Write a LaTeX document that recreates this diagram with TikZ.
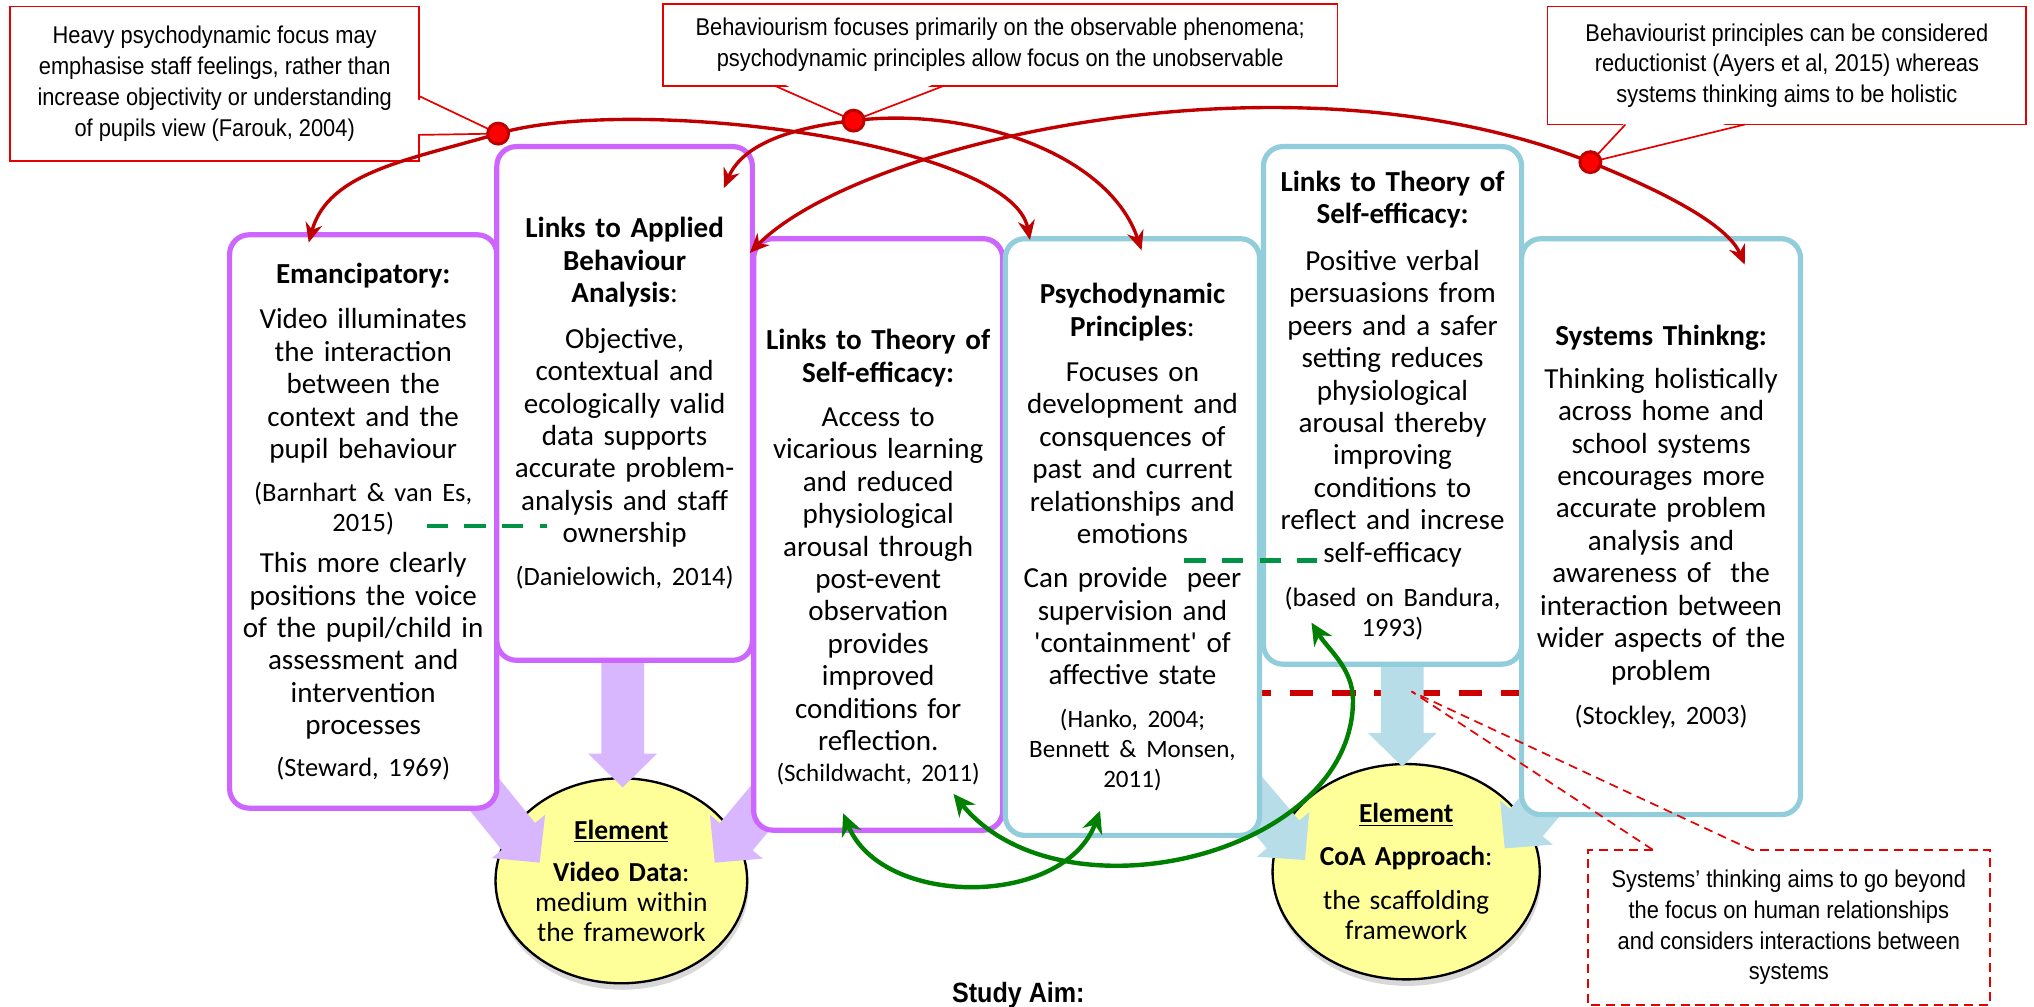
\documentclass[tikz,border=0pt]{standalone}
\usepackage{fontspec}
\setmainfont{Carlito}
\newfontfamily\quotefont[Ligatures=TeXOff]{Carlito}
\newfontfamily\callfont[FakeStretch=0.9]{Liberation Sans}
\usetikzlibrary{arrows.meta,shapes.geometric,shadows}
\frenchspacing

\definecolor{purp}{RGB}{204,102,255}
\definecolor{purpfill}{RGB}{217,183,255}
\definecolor{blu}{RGB}{146,205,220}
\definecolor{blufill}{RGB}{183,222,232}
\definecolor{arcred}{RGB}{192,0,0}
\definecolor{callred}{RGB}{230,0,0}
\definecolor{dotred}{RGB}{255,0,0}
\definecolor{grn}{RGB}{0,128,0}
\definecolor{dashgrn}{RGB}{0,146,69}
\definecolor{ellfill}{RGB}{255,255,153}
\definecolor{dred}{RGB}{204,0,0}

\newcommand{\citefont}{\fontsize{20.4}{23}\selectfont}
\newcommand{\citefontS}{\fontsize{19.3}{23}\selectfont}
\newcommand{\sq}{{\quotefont'}}

\newcommand{\blockarrow}[4]{%
  \begin{scope}[shift={(#1)}, rotate=#2]
    \fill[#4] (0,0) -- (-26,26.5) -- (-26,16.5) -- (-#3,16.5) -- (-#3,-16.5) -- (-26,-16.5) -- (-26,-26.5) -- cycle;
  \end{scope}}

\tikzset{
  boxbase/.style={draw, line width=4pt, rounded corners=15pt, fill=white, inner sep=0pt,
    text width=#1, align=center, font=\fontsize{22.4}{25}\selectfont\frenchspacing},
  pbox/.style={boxbase=#1, draw=purp},
  bbox/.style={boxbase=#1, draw=blu},
  ellnode/.style={ellipse, draw=black, line width=1.8pt, fill=ellfill, inner sep=0pt,
    drop shadow={shadow xshift=1pt, shadow yshift=-5pt, opacity=0.3}},
  elltext/.style={text width=190pt, align=center, inner sep=0pt, font=\fontsize{21.2}{23}\selectfont},
  callout/.style={draw=callred, line width=1.4pt, fill=white, inner sep=0pt, align=center,
    font=\callfont\fontsize{18.7}{23.7}\selectfont},
  calltext/.style={inner sep=0pt, align=center, font=\callfont\fontsize{18.7}{23.7}\selectfont},
  rdot/.style={circle, fill=dotred, draw=arcred, line width=2.4pt, minimum size=16pt, inner sep=0pt},
  redarc/.style={draw=arcred, line width=2.6pt, -{Stealth[length=15pt,width=13pt]}},
  pointer/.style={draw=callred, line width=1.3pt},
  grnarc/.style={draw=grn, line width=3.4pt, {Stealth[length=17pt,width=16pt]}-{Stealth[length=17pt,width=16pt]}},
  grndash/.style={draw=dashgrn, line width=3.6pt, dash pattern=on 16.5pt off 12.5pt},
  reddash/.style={draw=dred, line width=4.5pt, dash pattern=on 18pt off 14.5pt, dash phase=9pt},
  c4dash/.style={draw=callred, line width=1.3pt, dash pattern=on 7pt off 4.5pt},
}

\begin{document}
\begin{tikzpicture}[x=1pt,y=1pt]
\useasboundingbox (0,0) rectangle (1568,-776);
\fill[white] (0,0) rectangle (1568,-776);

% ---------- ellipses ----------
\node[ellnode, minimum width=194pt, minimum height=158pt] (vell) at (479,-679) {};
\node[ellnode, minimum width=206pt, minimum height=166pt] (cell) at (1084,-672) {};

% ---------- red dashed divider ----------
\coordinate (rdl) at (971,-534);
\coordinate (rdr) at (1173,-534);
\draw[reddash] (rdl) -- (rdr);

% ---------- block arrows ----------
\coordinate (vaD) at (480,-607);
\coordinate (vaL) at (416,-665);
\coordinate (vaR) at (551,-665);
\coordinate (caD) at (1081,-591);
\coordinate (caL) at (1006,-663);
\coordinate (caR) at (1160,-654);
\blockarrow{vaD}{-90}{117}{purpfill}
\blockarrow{vaL}{-51}{85}{purpfill}
\blockarrow{vaR}{-129.7}{85}{purpfill}
\blockarrow{caD}{-90}{100}{blufill}
\blockarrow{caL}{-49.5}{85}{blufill}
\blockarrow{caR}{-130}{85}{blufill}

\node[elltext] (vtxt) at (vell) {\textbf{\underline{Element}}\par\vspace{10pt}
\textbf{Video Data}:\\medium within\\the framework\par};
\node[elltext] (ctxt) at (cell) {\textbf{\underline{Element}}\par\vspace{10pt}
\textbf{CoA Approach}:\par\vspace{11pt}
the scaffolding\\framework\par};

% ---------- boxes ----------
\node[pbox=196pt, minimum width=206pt, minimum height=442pt] (emanc) at (280,-402) {%
\textbf{Emancipatory:}\par\vspace{10pt}
Video illuminates\\the interaction\\between the\\context and the\\pupil behaviour\par\vspace{10pt}
{\citefont (Barnhart \& van Es,\\2015)\par}\vspace{7pt}
This more clearly\\positions the voice\\of the pupil/child in\\assessment and\\intervention\\processes\par\vspace{9pt}
{\citefont (Steward, 1969)\par}};

\node[pbox=188pt, minimum width=197pt, minimum height=396pt] (aba) at (481.5,-311) {%
\textbf{Links to Applied\\Behaviour\\Analysis}:\par\vspace{10pt}
Objective,\\contextual and\\ecologically valid\\data supports\\accurate problem-\\analysis and staff\\ownership\par\vspace{10pt}
{\citefont (Danielowich, 2014)\par}};

\node[pbox=184pt, minimum width=192pt, minimum height=456pt] (selfa) at (677,-412) {%
\rule{0pt}{51pt}\textbf{Links to Theory of\\Self-efficacy:}\par\vspace{9pt}
Access to\\vicarious learning\\and reduced\\physiological\\arousal through\\post-event\\observation\\provides\\improved\\conditions for\\reflection.\par\vspace{1pt}
{\citefontS (Schildwacht, 2011)\par}};

\node[bbox=188pt, minimum width=196pt, minimum height=460pt] (psy) at (873,-414) {%
\textbf{Psychodynamic\\Principles}:\par\vspace{10pt}
Focuses on\\development and\\consquences of\\past and current\\relationships and\\emotions\par\vspace{9pt}
Can provide\ \ peer\\supervision and\\\sq containment\sq\ of\\affective state\par\vspace{10pt}
{\citefontS (Hanko, 2004;\\Bennett \& Monsen,\\2011)\par}};

\node[bbox=190pt, minimum width=199pt, minimum height=399pt] (selfb) at (1073.5,-312.5) {%
\textbf{Links to Theory of\\Self-efficacy:}\par\vspace{11pt}
Positive verbal\\persuasions from\\peers and a safer\\setting reduces\\physiological\\arousal thereby\\improving\\conditions to\\reflect and increse\\self-efficacy\par\vspace{11pt}
{\citefont (based on Bandura,\\1993)\par}};

\node[bbox=205pt, minimum width=215pt, minimum height=444pt] (sys) at (1280.5,-406) {%
\textbf{Systems Thinkng:}\par\vspace{8pt}
Thinking holistically\\across home and\\school systems\\encourages more\\accurate problem\\analysis and\\awareness of\ \ the\\interaction between\\wider aspects of the\\problem\par\vspace{11pt}
{\citefont (Stockley, 2003)\par}};

% ---------- green dashed links ----------
\coordinate (gd1a) at (329,-405.5);
\coordinate (gd1b) at (422,-405.5);
\coordinate (gd2a) at (913,-432);
\coordinate (gd2b) at (1015,-432);
\draw[grndash] (gd1a) -- (gd1b);
\draw[grndash] (gd2a) -- (gd2b);

% ---------- callouts ----------
\node[callout, minimum width=315pt, minimum height=119pt] (c1) at (165.5,-64.5)
  {Heavy psychodynamic focus may\\emphasise staff feelings, rather than\\increase objectivity or understanding\\of pupils view (Farouk, 2004)};
\node[callout, minimum width=520pt, minimum height=63pt] (c2) at (771,-34.5)
  {Behaviourism focuses primarily on the observable phenomena;\\psychodynamic principles allow focus on the unobservable};
\node[callout, minimum width=369pt, minimum height=91pt] (c3) at (1377.5,-50.5)
  {Behaviourist principles can be considered\\reductionist (Ayers et al, 2015) whereas\\systems thinking aims to be holistic};

\coordinate (d1) at (384,-103);
\coordinate (d2) at (658,-93);
\coordinate (d3) at (1226,-125);

\coordinate (c1p1) at (323,-74);
\coordinate (c1p2) at (323,-104);
\coordinate (c2p1) at (597,-66);
\coordinate (c2p2) at (728,-66);
\coordinate (c3p1) at (1253,-96);
\coordinate (c3p2) at (1345,-96);
\fill[white] (319,-75.5) -- (d1) -- (319,-103.3) -- cycle;
\fill[white] (599,-62) -- (d2) -- (726,-62) -- cycle;
\fill[white] (1255,-92) -- (d3) -- (1343,-92) -- cycle;
\draw[pointer] (c1p1) -- (d1) -- (c1p2);
\draw[pointer] (c2p1) -- (d2) -- (c2p2);
\draw[pointer] (c3p1) -- (d3) -- (c3p2);

% ---------- red arcs ----------
\coordinate (tE) at (238,-187);
\coordinate (tP1) at (794,-185);
\coordinate (tA) at (558,-145);
\coordinate (tP2) at (880,-193);
\coordinate (tS) at (578,-195);
\coordinate (tT) at (1345,-204);
\draw[redarc] (d1) .. controls (317,-123) and (253,-132) .. (tE);
\draw[redarc] (d1) .. controls (490,-72) and (780,-110) .. (tP1);
\draw[redarc] (d2) .. controls (613,-98) and (573,-110) .. (tA);
\draw[redarc] (d2) .. controls (747,-82) and (855,-118) .. (tP2);
\draw[redarc] (d3) .. controls (993,-32.5) and (662,-110) .. (tS);
\draw[redarc] (d3) .. controls (1263,-140) and (1330,-169) .. (tT);

\node[rdot] (dot1) at (d1) {};
\node[rdot] (dot2) at (d2) {};
\node[rdot] (dot3) at (d3) {};

% ---------- green arcs ----------
\coordinate (g1a) at (650,-627);
\coordinate (g1b) at (848,-625);
\coordinate (g2a) at (735,-612);
\coordinate (g2m) at (1043,-540);
\coordinate (g2b) at (1011,-480);
\draw[grnarc] (g1a) .. controls (680,-700) and (820,-700) .. (g1b);
\draw[grnarc] (g2a) .. controls (817,-713) and (1043,-660) .. (g2m) .. controls (1043,-515) and (1024,-501) .. (g2b);

% ---------- dashed callout ----------
\coordinate (c4apex) at (1088,-533);
\fill[white] (1224,-655) rectangle (1534,-775);
\draw[c4dash] (1274,-655) -- (1224,-655) -- (1224,-775) -- (1534,-775) -- (1534,-655) -- (1350,-655);
\draw[c4dash] (1274,-655) -- (c4apex) -- (1350,-655);
\node[calltext] (c4) at (1379,-715)
  {Systems’ thinking aims to go beyond\\the focus on human relationships\\and considers interactions between\\systems};

% ---------- study aim ----------
\node[anchor=base, inner sep=0pt, font=\callfont\bfseries\fontsize{21.5}{24}\selectfont] (aim) at (785,-773) {Study Aim:};
\end{tikzpicture}
\end{document}
